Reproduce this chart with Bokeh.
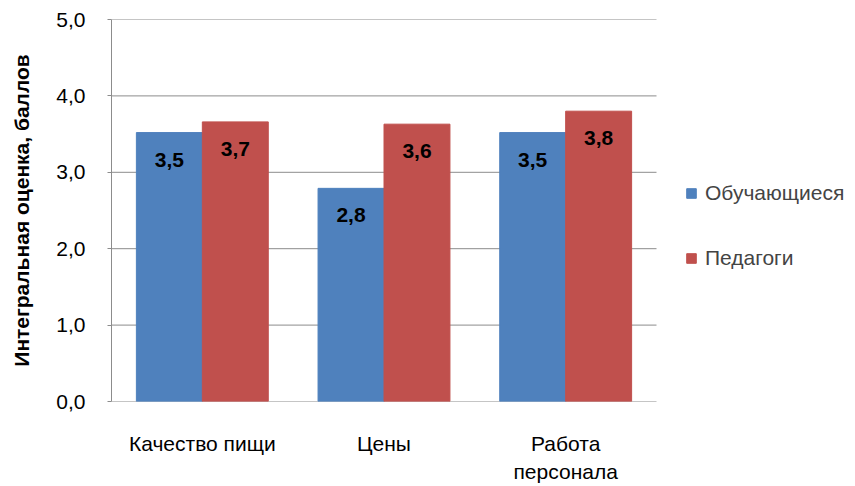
from bokeh.plotting import figure
from bokeh.models import ColumnDataSource, Range1d, Legend, LegendItem, FixedTicker
from bokeh.core.properties import value
from bokeh.embed import file_html
from bokeh.resources import INLINE

categories = ["Качество пищи", "Цены", "Работа\nперсонала"]
series_names = ["Обучающиеся", "Педагоги"]
students = [3.52, 2.79, 3.52]
teachers = [3.66, 3.63, 3.80]
y_ticks = [0, 1, 2, 3, 4, 5]
y_tick_labels = ["0,0", "1,0", "2,0", "3,0", "4,0", "5,0"]

FONT = "Liberation Sans"
FS = "21px"
BLUE = "#4F81BD"
RED = "#C0504D"
GRID = "#8C8C8C"

W, H = 855, 486
LEFT, TOP, RIGHT_EDGE, BOTTOM_EDGE = 111, 19, 656, 401

def fmt(v):
    return f"{v:.1f}".replace(".", ",")

n = len(categories)
centers = [i + 0.5 for i in range(n)]
bw = 0.363

src = ColumnDataSource(dict(
    xs=[c - bw / 2 for c in centers],
    xt=[c + bw / 2 for c in centers],
    s=students,
    t=teachers,
    s_lab=[fmt(v) for v in students],
    t_lab=[fmt(v) for v in teachers],
))

# frame extends to the right edge so the legend is not clipped; data 0..n spans the chart area
x_end = n * (W - LEFT) / (RIGHT_EDGE - LEFT)
p = figure(width=W, height=H, x_range=Range1d(0, x_end), y_range=Range1d(0, 5),
           output_backend="svg", toolbar_location=None,
           min_border_left=LEFT, min_border_top=TOP, min_border_right=0,
           min_border_bottom=H - BOTTOM_EDGE)
p.outline_line_color = None
p.background_fill_color = "white"

# gridlines limited to the category area
p.segment(x0=[0] * len(y_ticks), x1=[n] * len(y_ticks), y0=y_ticks, y1=y_ticks,
          line_color=GRID, line_width=1)

r1 = p.vbar(x="xs", top="s", width=bw, source=src, fill_color=BLUE, line_color=BLUE)
r2 = p.vbar(x="xt", top="t", width=bw, source=src, fill_color=RED, line_color=RED)

for xc, col, lab in (("xs", "s", "s_lab"), ("xt", "t", "t_lab")):
    p.text(x=xc, y=col, text=lab, source=src,
           text_font=value(FONT), text_font_size=FS, text_font_style="bold",
           text_align="center", text_baseline="middle", y_offset=27, text_color="black")

p.xgrid.grid_line_color = None
p.ygrid.grid_line_color = None

p.yaxis.ticker = FixedTicker(ticks=y_ticks)
p.yaxis.major_label_overrides = {t: l for t, l in zip(y_ticks, y_tick_labels)}
p.yaxis.minor_tick_line_color = None
p.yaxis.major_tick_out = 4
p.yaxis.major_tick_in = 0
p.yaxis.major_tick_line_color = GRID
p.yaxis.axis_line_color = GRID
p.yaxis.major_label_text_font = FONT
p.yaxis.major_label_text_font_size = FS
p.yaxis.major_label_text_color = "black"
p.yaxis.major_label_standoff = 22
p.yaxis.axis_label = "Интегральная оценка, баллов"
p.yaxis.axis_label_text_font = FONT
p.yaxis.axis_label_text_font_size = FS
p.yaxis.axis_label_text_font_style = "bold"
p.yaxis.axis_label_text_color = "black"
p.yaxis.axis_label_standoff = 20

p.xaxis.ticker = FixedTicker(ticks=centers)
p.xaxis.major_label_overrides = {c: lab for c, lab in zip(centers, categories)}
p.xaxis.major_tick_line_color = None
p.xaxis.minor_tick_line_color = None
p.xaxis.axis_line_color = None
p.xaxis.major_label_text_font = FONT
p.xaxis.major_label_text_font_size = FS
p.xaxis.major_label_text_color = "black"
p.xaxis.major_label_text_line_height = 1.25
p.xaxis.major_label_standoff = 24

legend = Legend(items=[LegendItem(label=series_names[0], renderers=[r1]),
                       LegendItem(label=series_names[1], renderers=[r2])],
                location=(574, 131), padding=0, margin=0, spacing=41,
                glyph_width=12, glyph_height=12, label_height=24, label_standoff=8,
                label_text_font=FONT, label_text_font_size=FS,
                border_line_color=None, background_fill_alpha=0)
p.add_layout(legend, "center")

open("out.html", "w").write(file_html(p, INLINE))
